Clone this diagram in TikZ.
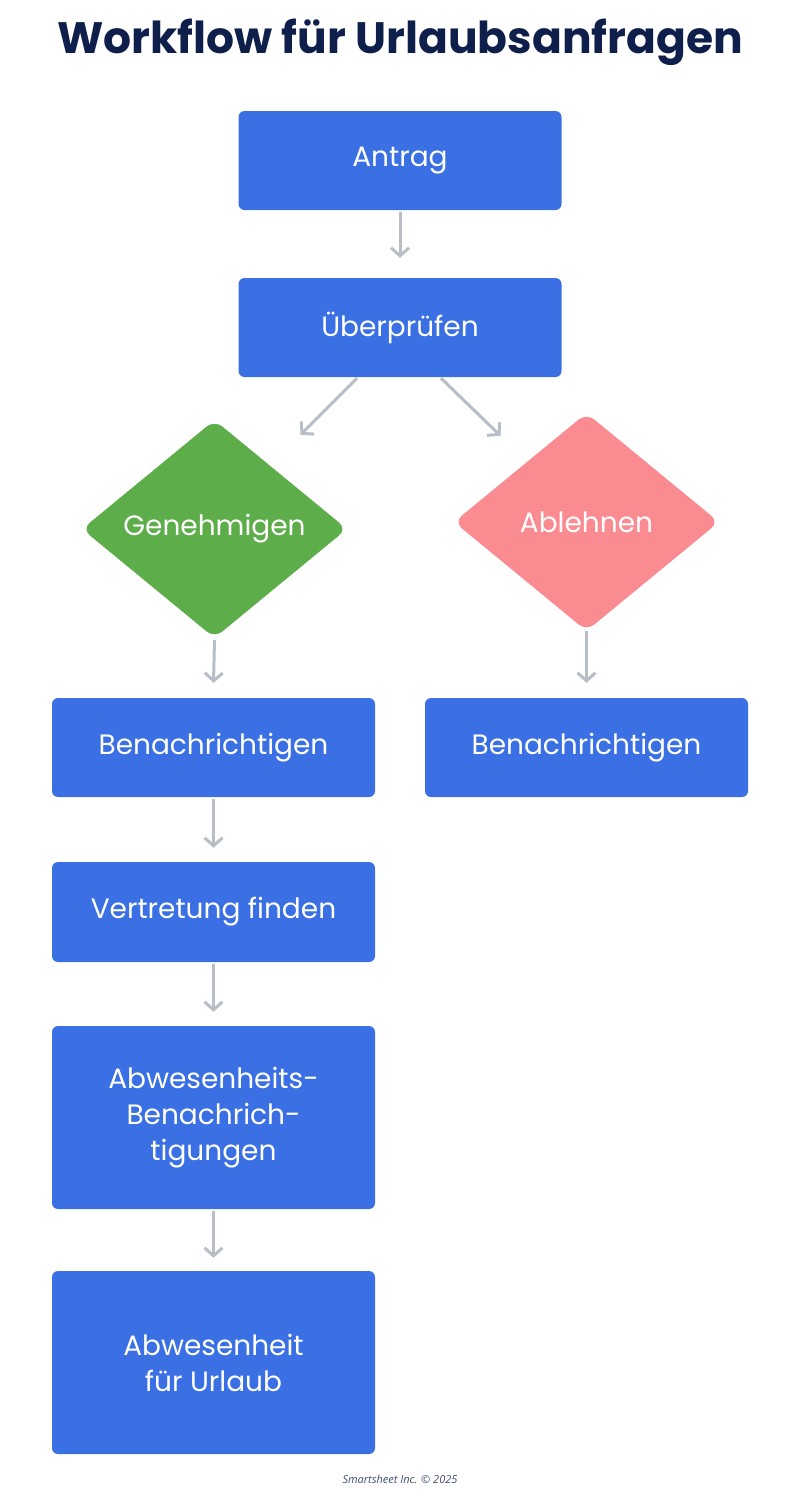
\documentclass[tikz,border=0pt]{standalone}
\usepackage{fontspec}
\setmainfont{Poppins}
\newfontfamily\footfont{Open Sans}
\usetikzlibrary{shapes.geometric,arrows.meta,calc}
\definecolor{bx}{HTML}{3A70E3}
\definecolor{gr}{HTML}{5DAD4A}
\definecolor{pk}{HTML}{F98B91}
\definecolor{ar}{HTML}{B8BDC6}
\definecolor{nv}{HTML}{0F1F4B}
\begin{document}
\begin{tikzpicture}[x=1pt,y=-1pt,
 box/.style={fill=bx,rounded corners=6pt,minimum width=323pt,inner sep=0pt,text=white,font=\fontsize{28}{36}\selectfont,align=center},
 dia/.style={shape=diamond,minimum width=265pt,minimum height=218pt,inner sep=0pt,rounded corners=10pt,text=white,font=\fontsize{28}{36}\selectfont},
 arr/.style={draw=ar,line width=3pt,-{Straight Barb[length=8pt,width=18pt,line width=3pt]}}]
\useasboundingbox (0,0) rectangle (800,1500);
\node[font=\fontsize{44}{50}\selectfont\bfseries,text=nv] (title) at (400,42) {Workflow für Urlaubsanfragen};
\node[box,minimum height=99pt] (a) at (400,160.5) {Antrag};
\node[box,minimum height=99pt] (u) at (400,327.5) {Überprüfen};
\node[dia,fill=gr] (g) at (214.5,529) {Genehmigen};
\node[dia,fill=pk] (r) at (586.5,522) {Ablehnen};
\node[box,minimum height=99pt] (b1) at (213.5,747.5) {Benachrichtigen};
\node[box,minimum height=99pt] (b2) at (586.5,747.5) {Benachrichtigen};
\node[box,minimum height=100pt] (v) at (213.5,912) {Vertretung finden};
\node[box,minimum height=183pt] (w) at (213.5,1117.5) {Abwesenheits-\\Benachrich-\\tigungen};
\node[box,minimum height=183pt] (f) at (213.5,1362.5) {Abwesenheit\\für Urlaub};
\node[font=\footfont\itshape\fontsize{11}{13}\selectfont,text=nv!80] (ft) at (400,1479) {Smartsheet Inc. © 2025};
\draw[arr] ($(a.south)+(0,2)$) -- ($(u.north)+(0,-20)$);
\draw[arr] ($(u.south)+(-43,1)$) -- ($(g.north)+(86,15)$);
\draw[arr] ($(u.south)+(41,1)$) -- ($(r.north)+(-86,23)$);
\draw[arr] ($(g.south)+(0,2)$) -- ($(b1.north)+(0,-15)$);
\draw[arr] ($(r.south)+(0,0)$) -- ($(b2.north)+(0,-15)$);
\draw[arr] ($(b1.south)+(0,2)$) -- ($(v.north)+(0,-14)$);
\draw[arr] ($(v.south)+(0,2)$) -- ($(w.north)+(0,-14)$);
\draw[arr] ($(w.south)+(0,2)$) -- ($(f.north)+(0,-13)$);
\end{tikzpicture}
\end{document}
